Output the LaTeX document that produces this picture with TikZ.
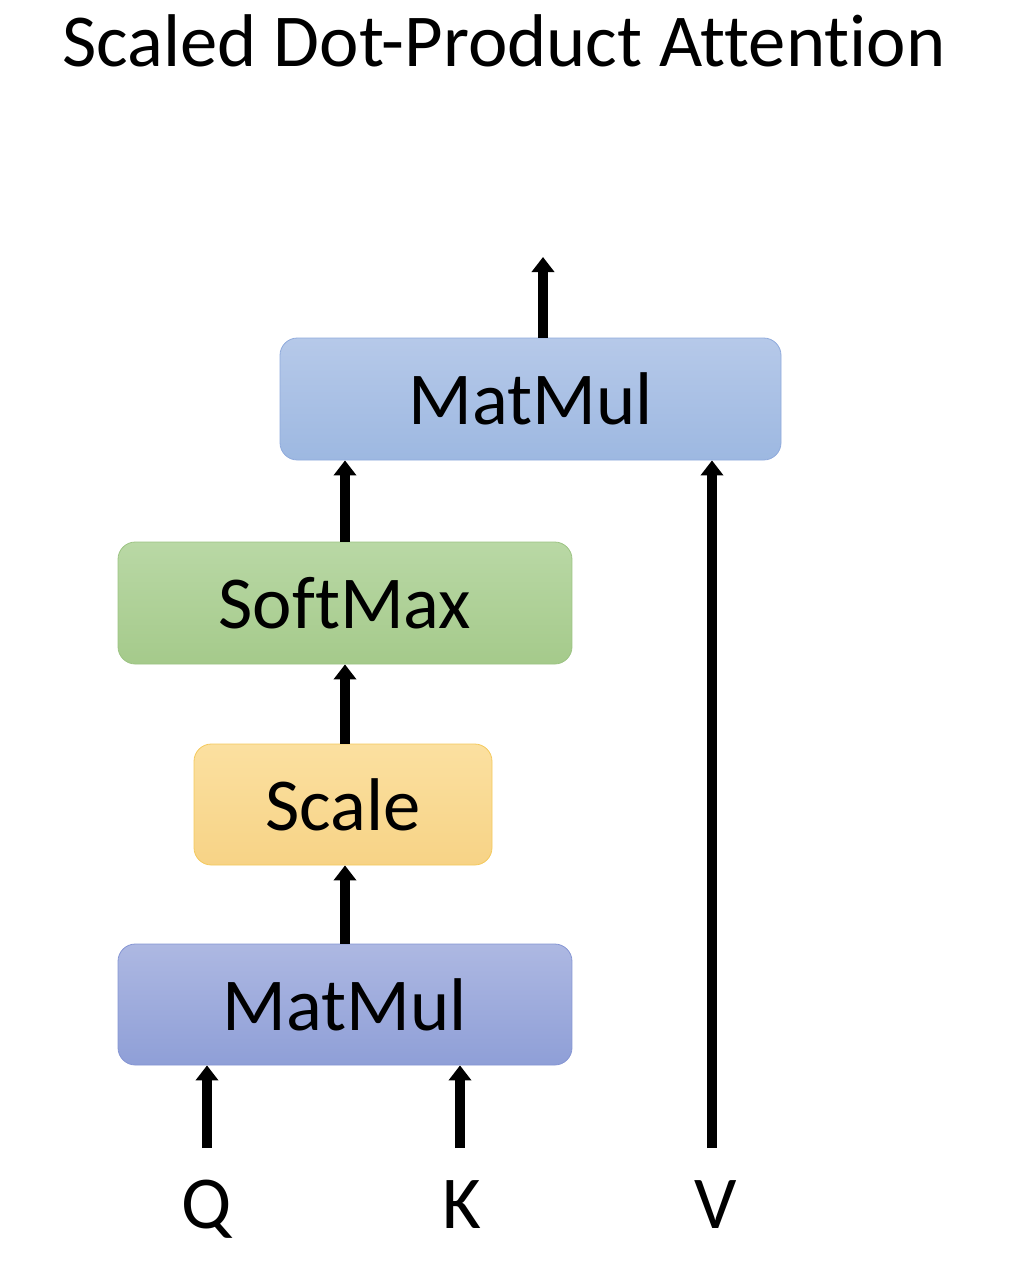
\documentclass[tikz,border=0pt]{standalone}
\usepackage{fontspec}
\setmainfont[Ligatures={NoCommon}]{Carlito}
\usetikzlibrary{arrows.meta}
\def\px{0.75pt}
\definecolor{mmtopA}{HTML}{B6C9E9}
\definecolor{mmtopB}{HTML}{9DB8E1}
\definecolor{mmtopD}{HTML}{8FAADC}
\definecolor{smA}{HTML}{B9D8A5}
\definecolor{smB}{HTML}{A5CA8B}
\definecolor{smD}{HTML}{9CC383}
\definecolor{scA}{HTML}{FBE0A0}
\definecolor{scB}{HTML}{F7D386}
\definecolor{scD}{HTML}{F4C95C}
\definecolor{mbA}{HTML}{ADB8E2}
\definecolor{mbB}{HTML}{8F9FD7}
\definecolor{mbD}{HTML}{8595D3}
\tikzset{
  opbox/.style={rectangle, rounded corners=13pt, line width=0.6pt,
    inner sep=0pt, font=\fontsize{56}{60}\selectfont, text=black},
  lbl/.style={inner sep=0pt, anchor=base, font=\fontsize{56}{60}\selectfont},
  flow/.style={line width=9.5*\px, -{Triangle[width=22*\px,length=15*\px]}}
}
\begin{document}
\begin{tikzpicture}[x=\px, y=-\px]
\useasboundingbox (0,0) rectangle (1010,1274);
\node[inner sep=0pt, anchor=base, font=\fontsize{56}{60}\selectfont] (title) at (504,66) {Scaled Dot-Product Attention};
\node[opbox, draw=mmtopD, top color=mmtopA, bottom color=mmtopB,
  minimum width=501*\px, minimum height=122*\px] (mm2) at (530.5,399) {MatMul};
\node[opbox, draw=smD, top color=smA, bottom color=smB,
  minimum width=454*\px, minimum height=122*\px] (sm) at (345,603) {SoftMax};
\node[opbox, draw=scD, top color=scA, bottom color=scB,
  minimum width=298*\px, minimum height=121*\px] (sc) at (343,804.5) {Scale};
\node[opbox, draw=mbD, top color=mbA, bottom color=mbB,
  minimum width=454*\px, minimum height=121*\px] (mm1) at (345,1004.5) {MatMul};
\node[lbl] (Q) at (207,1228) {Q};
\node[lbl] (K) at (462,1228) {K};
\node[lbl] (V) at (716,1228) {V};
\coordinate (q0) at (207,1148);
\coordinate (k0) at (460,1148);
\coordinate (v0) at (712,1148);
\coordinate (out) at (543,257);
\draw[flow] (q0) -- (mm1.south -| q0);
\draw[flow] (k0) -- (mm1.south -| k0);
\draw[flow] (v0) -- (mm2.south -| v0);
\draw[flow] (mm1.north -| 345,0) -- (sc.south -| 345,0);
\draw[flow] (sc.north -| 345,0) -- (sm.south -| 345,0);
\draw[flow] (sm.north -| 345,0) -- (mm2.south -| 345,0);
\draw[flow] (mm2.north -| out) -- (out);
\end{tikzpicture}
\end{document}
